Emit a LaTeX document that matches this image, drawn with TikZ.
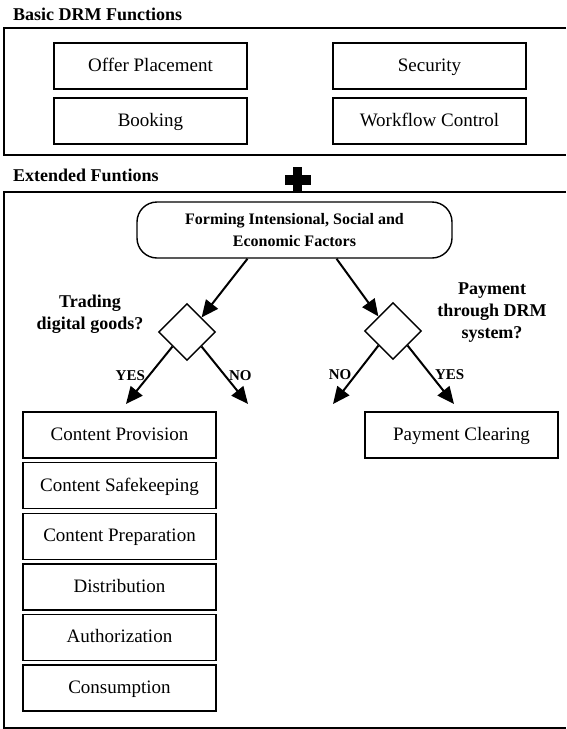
\documentclass[tikz,border=0pt]{standalone}
\usepackage{fontspec}
\setmainfont{Liberation Serif}
\usetikzlibrary{shapes.geometric, arrows.meta, positioning, calc}

\begin{document}
\begin{tikzpicture}[x=1pt, y=-1pt,
  funcbox/.style={draw, line width=1.4pt, minimum width=193pt, minimum height=46pt, inner sep=0pt, text height=12.5pt, text depth=1.5pt, font=\fontsize{19}{22}\selectfont},
  header/.style={anchor=west, inner sep=0pt, font=\bfseries\fontsize{18}{22}\selectfont},
  question/.style={align=center, font=\bfseries\fontsize{18}{22}\selectfont},
  decision/.style={draw, diamond, aspect=1, minimum width=57pt, minimum height=57pt, inner sep=0pt, line width=1.4pt},
  answer/.style={font=\bfseries\fontsize{15}{18}\selectfont},
  flow/.style={-{Triangle[length=17pt, width=15pt]}, line width=2pt},
  frame/.style={line width=1.6pt}
]
  \useasboundingbox (0,0) rectangle (566,729);

  % basic functions
  \node[header] (basic) at (13,14) {Basic DRM Functions};
  \draw[frame] (566,28) -- (4,28) -- (4,155) -- (566,155);
  \node[funcbox] (offer) at (150.5,66) {Offer Placement};
  \node[funcbox] (security) at (429.5,66) {Security};
  \node[funcbox] (booking) at (150.5,121) {Booking};
  \node[funcbox] (workflow) at (429.5,121) {Workflow Control};

  % extended functions
  \node[header] (extended) at (13,175) {Extended Funtions};
  \fill (285,175) rectangle (311,185);
  \fill (293,167) rectangle (302,193);
  \draw[frame] (566,192) -- (4,192) -- (4,728) -- (566,728);

  \node[draw, line width=1.4pt, rounded corners=20pt, minimum width=315pt, minimum height=56pt, align=center,
        font=\bfseries\fontsize{16}{22}\selectfont] (factors) at (294.5,230)
    {Forming Intensional, Social and\\Economic Factors};

  \node[decision] (goods) at (187,332) {};
  \node[decision] (payment) at (393,331) {};
  \node[question] (goodsq) at (90,314) {Trading\\digital goods?};
  \node[question] (paymentq) at (492,313) {Payment\\through DRM\\system?};

  \coordinate (goodsyes) at (126,404);
  \coordinate (goodsno) at (248,404);
  \coordinate (payno) at (333,404);
  \coordinate (payyes) at (454,404);

  \draw[flow] ($(factors.south)+(-47,0)$) -- (goods.north east);
  \draw[flow] ($(factors.south)+(42,0)$) -- (payment.north west);
  \draw[flow] (goods.south west) -- (goodsyes) node[answer, midway, left] {YES};
  \draw[flow] (goods.south east) -- (goodsno) node[answer, midway, right] {NO};
  \draw[flow] (payment.south west) -- (payno) node[answer, midway, left] {NO};
  \draw[flow] (payment.south east) -- (payyes) node[answer, midway, right] {YES};

  \node[funcbox] (provision) at (119.5,435) {Content Provision};
  \node[funcbox, below=3.2pt of provision] (safekeeping) {Content Safekeeping};
  \node[funcbox, below=3.2pt of safekeeping] (preparation) {Content Preparation};
  \node[funcbox, below=3.2pt of preparation] (distribution) {Distribution};
  \node[funcbox, below=3.2pt of distribution] (authorization) {Authorization};
  \node[funcbox, below=3.2pt of authorization] (consumption) {Consumption};

  \node[funcbox] (clearing) at (461.5,435) {Payment Clearing};
\end{tikzpicture}
\end{document}
